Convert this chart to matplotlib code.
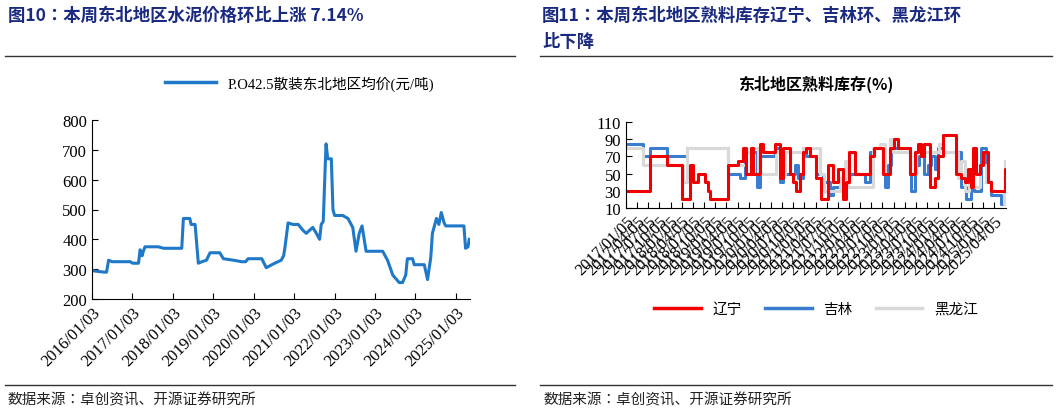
import matplotlib
matplotlib.use("Agg")
import matplotlib.pyplot as plt
from matplotlib.lines import Line2D
from matplotlib import font_manager

names = {f.name for f in font_manager.fontManager.ttflist}
CJK = [n for n in ["Noto Sans CJK SC", "Noto Sans CJK JP", "Noto Sans CJK TC", "Noto Sans CJK KR"] if n in names] or ["DejaVu Sans"]
SERIF = ["Liberation Serif"] + CJK
plt.rcParams["font.family"] = CJK
NAVY = "#1a2a80"

# ---------- left chart data (decimal year, price) ----------
price_t = [2016.00, 2016.30, 2016.36, 2016.41, 2016.50, 2016.95, 2017.00, 2017.15, 2017.19, 2017.24, 2017.27,
           2017.31, 2017.64, 2017.77, 2018.22, 2018.24, 2018.26, 2018.42, 2018.45, 2018.55, 2018.63, 2018.72,
           2018.83, 2018.92, 2019.16, 2019.25, 2019.50, 2019.70, 2019.80, 2019.86, 2020.20, 2020.31, 2020.52,
           2020.68, 2020.74, 2020.77, 2020.85, 2020.97, 2021.10, 2021.22, 2021.30, 2021.46, 2021.55, 2021.63,
           2021.67, 2021.72, 2021.77, 2021.79, 2021.83, 2021.92, 2021.96, 2022.00, 2022.20, 2022.33, 2022.45,
           2022.53, 2022.61, 2022.68, 2022.78, 2023.19, 2023.31, 2023.44, 2023.60, 2023.68, 2023.76, 2023.80,
           2023.93, 2023.97, 2024.22, 2024.30, 2024.38, 2024.42, 2024.52, 2024.58, 2024.64, 2024.71, 2024.75,
           2025.20, 2025.24, 2025.30, 2025.33]
price_v = [295, 290, 290, 330, 325, 325, 320, 320, 365, 345, 360,
           375, 375, 370, 370, 420, 470, 470, 450, 450, 320, 325,
           330, 355, 355, 335, 330, 325, 325, 335, 335, 305, 320,
           330, 345, 370, 455, 450, 450, 430, 420, 440, 420, 400,
           450, 460, 650, 720, 670, 670, 500, 480, 480, 470, 440,
           360, 420, 445, 360, 360, 330, 280, 255, 255, 280, 335,
           335, 315, 315, 265, 340, 420, 470, 450, 490, 455, 445,
           445, 370, 375, 400]
price_ticks = [2016, 2017, 2018, 2019, 2020, 2021, 2022, 2023, 2024, 2025]

# ---------- right chart data (years since 2017/01/05, %) ----------
ln_t = [0, .50, .54, .87, .91, 1.17, 1.25, 1.36, 1.43, 1.51, 1.58, 1.62, 1.73, 1.77, 1.84, 1.88, 2.25, 2.29, 2.48,
        2.51, 2.63, 2.70, 2.81, 2.85, 3.00, 3.07, 3.30, 3.34, 3.45, 3.52, 3.63, 3.67, 3.75, 3.82, 3.90, 3.97, 4.04,
        4.12, 4.23, 4.27, 4.38, 4.53, 4.64, 4.75, 4.87, 4.94, 5.01, 5.13, 5.31, 5.46, 5.57, 5.69, 5.76, 5.91, 6.02,
        6.10, 6.28, 6.36, 6.47, 6.54, 6.62, 6.69, 6.77, 6.81, 6.92, 6.99, 7.10, 7.33, 7.40, 7.51, 7.59, 7.66, 7.74,
        7.78, 7.85, 7.93, 8.00, 8.11, 8.19, 8.41, 8.49, 8.52]
ln_v = [30, 30, 70, 70, 60, 60, 20, 20, 60, 40, 40, 50, 50, 40, 30, 20, 20, 60, 60,
        65, 80, 50, 80, 50, 85, 75, 75, 85, 45, 80, 80, 50, 40, 30, 50, 75, 80,
        70, 70, 45, 20, 60, 40, 55, 20, 40, 75, 50, 50, 70, 80, 80, 50, 80, 90,
        80, 80, 50, 75, 85, 70, 85, 85, 35, 45, 70, 95, 95, 50, 45, 40, 55, 35,
        80, 50, 60, 75, 40, 30, 30, 55, 55]
jl_t = [0, .31, .39, .46, .54, .87, .91, 1.21, 1.36, 2.25, 2.29, 2.51, 2.55, 2.66, 2.85, 2.93, 3.00, 3.30, 3.34,
        3.45, 3.52, 3.75, 3.78, 3.86, 3.97, 4.04, 4.19, 4.27, 4.42, 4.57, 4.64, 4.79, 4.98, 5.31, 5.35, 5.46, 5.57,
        5.69, 5.80, 5.88, 5.95, 6.02, 6.28, 6.36, 6.40, 6.47, 6.58, 6.69, 6.77, 6.84, 6.92, 6.99, 7.10, 7.36, 7.51,
        7.62, 7.74, 7.81, 7.96, 8.07, 8.19, 8.37, 8.41, 8.49]
jl_v = [85, 85, 70, 70, 80, 80, 70, 70, 80, 80, 50, 50, 45, 75, 75, 35, 70, 70, 80,
        40, 50, 50, 60, 45, 80, 70, 70, 50, 40, 25, 35, 45, 50, 50, 40, 75, 80,
        80, 35, 60, 85, 80, 80, 50, 30, 60, 70, 50, 60, 70, 55, 80, 75, 75, 35,
        20, 35, 30, 80, 40, 25, 25, 15, 60]
hl_t = [0, .31, .39, 1.21, 1.28, 1.36, 2.25, 2.29, 2.54, 2.70, 2.85, 2.96, 3.30, 3.37, 3.45, 3.56, 3.90, 3.97,
        4.27, 4.34, 4.45, 4.64, 4.79, 4.90, 4.98, 5.43, 5.54, 5.69, 5.80, 5.91, 5.99, 6.28, 6.36, 6.51, 6.95, 7.02,
        7.10, 7.37, 7.44, 7.51, 7.59, 7.70, 7.78, 7.93, 8.07, 8.19, 8.41, 8.48, 8.50]
hl_v = [80, 80, 60, 60, 40, 80, 80, 60, 60, 75, 80, 50, 50, 75, 50, 75, 75, 80,
        80, 50, 30, 30, 45, 65, 35, 35, 80, 85, 50, 90, 75, 75, 50, 75, 75, 85,
        75, 75, 45, 65, 30, 55, 35, 60, 40, 30, 30, 15, 65]
q_years = list(range(2017, 2026))
q_months = ["01", "04", "07", "10"]

fig = plt.figure(figsize=(10.57, 4.14), dpi=100)

# headers
fig.text(8/1057, 1-16/414, "图10：本周东北地区水泥价格环比上涨 7.14%", fontsize=12.5,
         fontweight="bold", color=NAVY, va="center")
fig.text(542/1057, 1-16/414, "图11：本周东北地区熟料库存辽宁、吉林环、黑龙江环", fontsize=12.5,
         fontweight="bold", color=NAVY, va="center")
fig.text(542/1057, 1-42/414, "比下降", fontsize=12.5, fontweight="bold", color=NAVY, va="center")
for x0, x1 in [(5, 515), (540, 1052)]:
    for y in (57, 386):
        fig.add_artist(Line2D([x0/1057, x1/1057], [1-y/414, 1-y/414], color="#333333", lw=1.0))
    fig.text((x0+3)/1057, 1-400/414, "数据来源：卓创资讯、开源证券研究所", fontsize=10.5,
             color="#222222", va="center")

# left chart
ax1 = fig.add_axes([92/1057, 1-300/414, 378/1057, 179/414])
ax1.plot(price_t, price_v, color="#1f78c8", lw=2.2)
ax1.set_xlim(2016.0, 2025.35)
ax1.set_ylim(200, 800)
ax1.set_yticks(range(200, 801, 100))
ax1.set_xticks(price_ticks)
ax1.set_xticklabels([f"{y}/01/03" for y in price_ticks], rotation=45, ha="right", rotation_mode="anchor")
for s in ("top", "right"):
    ax1.spines[s].set_visible(False)
ax1.tick_params(direction="in", labelsize=12, length=4)
for lab in ax1.get_xticklabels() + ax1.get_yticklabels():
    lab.set_fontfamily(SERIF)
ax1.legend([Line2D([], [], color="#1f78c8", lw=2.5)], ["P.O42.5散装东北地区均价(元/吨)"],
           loc="center", bbox_to_anchor=(0.55, 1.0 + 37/179), frameon=False,
           prop={"family": SERIF, "size": 10.5}, handlelength=3.5)

# right chart
ax2 = fig.add_axes([626/1057, 1-209/414, 380/1057, 86/414])
ax2.plot(jl_t, jl_v, color="#3a7dd0", lw=2.2, drawstyle="steps-post")
ax2.plot(hl_t, hl_v, color="#d9d9d9", lw=2.2, drawstyle="steps-post")
ax2.plot(ln_t, ln_v, color="#f00000", lw=2.2, drawstyle="steps-post")
ax2.set_xlim(0, 8.52)
ax2.set_ylim(10, 110)
ax2.set_yticks(range(10, 111, 20))
qt, ql = [], []
for i, y in enumerate(q_years):
    for j, m in enumerate(q_months):
        if y == 2025 and j > 1:
            break
        qt.append(i + j * 0.25)
        ql.append(f"{y}/{m}/05")
ax2.set_xticks(qt)
ax2.set_xticklabels(ql, rotation=45, ha="right", rotation_mode="anchor")
for s in ("top", "right"):
    ax2.spines[s].set_visible(False)
ax2.tick_params(direction="in", labelsize=12, length=4)
for lab in ax2.get_xticklabels() + ax2.get_yticklabels():
    lab.set_fontfamily(SERIF)
ax2.set_title("东北地区熟料库存(%)", fontsize=11.5, fontweight="bold", pad=24)
ax2.legend([Line2D([], [], color=c, lw=2.5) for c in ("#f00000", "#3a7dd0", "#d9d9d9")],
           ["辽宁", "吉林", "黑龙江"], loc="center", bbox_to_anchor=(0.5, -(310-209)/86),
           ncol=3, frameon=False, prop={"size": 10.5}, handlelength=3.2, columnspacing=1.6)

fig.savefig("out.png", dpi=100)
